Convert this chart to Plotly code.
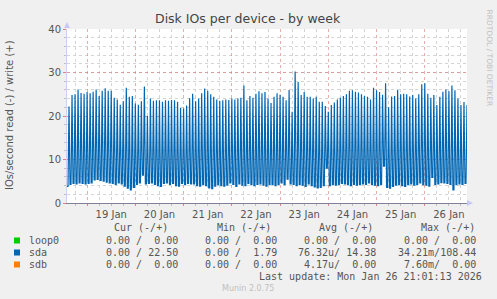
import pandas as pd
import plotly.graph_objects as go

# ---------------- data ----------------
start_time = "2026-01-18 14:00"
range_start = "2026-01-18 14:00"
range_end = "2026-01-26 21:00"

# sda write IOs/s : peaks (every 90 min) and troughs between them
sda_high = [22.2, 24.8, 25.0, 26.1, 25.3, 25.1, 25.5, 25.2, 25.6, 26.1,
            24.6, 25.8, 26.4, 25.8, 25.8, 24.2, 23.8, 22.6, 23.4, 26.5,
            24.4, 24.6, 22.9, 22.6, 23.4, 26.8, 20.0, 24.0, 23.5, 23.6,
            23.6, 23.3, 23.6, 23.5, 23.7, 23.6, 23.3, 21.9, 21.7, 22.4,
            24.1, 25.1, 23.4, 24.0, 25.2, 26.3, 25.8, 25.0, 24.4, 23.8,
            23.5, 23.6, 23.8, 23.7, 24.0, 23.8, 24.0, 24.2, 27.0, 23.6,
            24.6, 24.2, 25.1, 25.7, 25.2, 25.5, 24.0, 23.0, 24.4, 25.2,
            24.9, 24.4, 23.6, 26.0, 21.0, 30.2, 27.8, 24.8, 25.5, 24.4,
            24.4, 24.0, 24.4, 23.3, 23.3, 22.3, 21.0, 22.5, 23.1, 23.8,
            24.2, 24.6, 25.0, 25.8, 25.9, 25.6, 25.4, 25.0, 24.6, 24.4,
            23.8, 26.5, 25.9, 25.5, 24.9, 27.5, 22.0, 24.5, 24.6, 26.0,
            25.0, 25.1, 25.0, 24.5, 24.8, 24.0, 25.0, 27.3, 27.5, 25.1,
            24.2, 24.8, 22.5, 24.4, 25.6, 26.1, 25.7, 27.0, 25.9, 24.0,
            22.5, 23.2, 22.5]
sda_low = [3.8, 4.3, 4.5, 4.4, 4.6, 4.5, 4.4, 4.5, 4.6, 5.3,
           5.4, 5.2, 5.0, 4.8, 4.6, 4.5, 4.3, 4.6, 4.4, 3.9,
           3.4, 3.0, 3.6, 4.3, 4.6, 6.4, 4.4, 4.5, 4.6, 4.3,
           4.0, 3.8, 4.5, 4.6, 4.3, 4.5, 4.0, 3.9, 4.5, 4.2,
           4.5, 4.4, 4.4, 4.0, 3.9, 4.2, 4.0, 3.5, 3.3, 3.9,
           4.2, 4.0, 3.9, 4.1, 4.6, 4.3, 3.8, 4.4, 4.1, 4.0,
           4.5, 4.2, 4.0, 4.3, 4.4, 4.1, 3.9, 4.2, 4.3, 4.0,
           4.3, 4.6, 4.2, 5.5, 4.4, 4.3, 4.0, 4.2, 4.1, 3.8,
           4.4, 4.0, 3.7, 3.5, 3.6, 4.0, 8.0, 4.0, 4.3, 4.1,
           4.3, 4.5, 4.4, 4.2, 4.0, 4.3, 4.1, 4.2, 4.4, 4.3,
           4.6, 4.2, 4.1, 4.0, 4.3, 8.5, 3.6, 3.4, 3.8, 4.1,
           4.3, 4.0, 3.8, 4.2, 4.4, 4.1, 4.3, 4.6, 4.2, 4.1,
           3.9, 5.9, 4.3, 4.4, 4.7, 4.6, 4.5, 4.3, 3.0, 4.2,
           4.4, 4.3, 4.5]

y_ticks = [0, 10, 20, 30, 40]

legend_names = ["loop0", "sda", "sdb"]
legend_colors = ["#00CC00", "#0066B3", "#FF8000"]
col_headers = ["Cur (-/+)", "Min (-/+)", "Avg (-/+)", "Max (-/+)"]
col_values = [
    ["0.00 /  0.00", "0.00 /  0.00", "0.00 /  0.00", "0.00 /  0.00"],
    ["0.00 / 22.50", "0.00 /  1.79", "76.32u/ 14.38", "34.21m/108.44"],
    ["0.00 /  0.00", "0.00 /  0.00", "4.17u/  0.00", "7.60m/  0.00"],
]
last_update = "Last update: Mon Jan 26 21:01:13 2026"

# ---------------- build series ----------------
n = len(sda_high)
times = pd.date_range(start_time, periods=3 * n, freq="30min")
yvals = []
for lo, hi in zip(sda_low, sda_high):
    yvals += [lo, lo, hi]

W, H = 497, 299
L, R, T, B = 67, 467, 29, 203


def px(x):
    return (x - L) / (R - L)


def py(y):
    return (B - y) / (B - T)


fig = go.Figure()
fig.add_trace(go.Scatter(x=times, y=yvals, mode="lines",
                         line=dict(color="#0066B3", width=1.2),
                         hoverinfo="skip", showlegend=False))

mono = "DejaVu Sans Mono"
sans = "DejaVu Sans"
txt = "#555555"
ann = []
ann.append(dict(x=px(248), y=py(19), text="Disk IOs per device - by week",
                font=dict(family=sans, size=12.5, color="#444444")))
ann.append(dict(x=px(10), y=py(115), text="IOs/second read (-) / write (+)",
                textangle=-90, font=dict(family=sans, size=10, color=txt)))
ann.append(dict(x=px(488.5), y=py(58), text="RRDTOOL / TOBI OETIKER",
                textangle=90, font=dict(family=sans, size=7.5, color="#c0c0c0")))

hdr_right = [169.5, 272.5, 374.5, 476.5]
val_right = [179.5, 278.5, 377.5, 477.5]
for h, xr in zip(col_headers, hdr_right):
    ann.append(dict(x=px(xr), y=py(227.5), text=h.replace(" ", "\u00a0"),
                    xanchor="right", font=dict(family=mono, size=10, color=txt)))
row_y = [240.5, 252.5, 264.5]
shapes = []
for name, color, vals, ry in zip(legend_names, legend_colors, col_values, row_y):
    shapes.append(dict(type="rect", xref="paper", yref="paper",
                       x0=px(14), x1=px(20), y0=py(ry - 3), y1=py(ry + 3),
                       fillcolor=color, line=dict(width=0)))
    ann.append(dict(x=px(26.5), y=py(ry), text=name, xanchor="left",
                    font=dict(family=mono, size=10, color=txt)))
    for v, xr in zip(vals, val_right):
        ann.append(dict(x=px(xr), y=py(ry), text=v.replace(" ", "\u00a0"),
                        xanchor="right", font=dict(family=mono, size=10, color=txt)))
ann.append(dict(x=px(483.5), y=py(276), text=last_update.replace(" ", "\u00a0"),
                xanchor="right", font=dict(family=mono, size=10, color=txt)))
ann.append(dict(x=px(248), y=py(288.5), text="Munin 2.0.75",
                font=dict(family=sans, size=8, color="#c0c0c0")))
for a in ann:
    a.update(xref="paper", yref="paper", showarrow=False)
    a.setdefault("xanchor", "center")
    a.setdefault("yanchor", "middle")

# axis arrows
shapes.append(dict(type="path", xref="paper", yref="paper",
                   path=f"M {px(467)},{py(200)} L {px(473)},{py(203)} L {px(467)},{py(206)} Z",
                   fillcolor="#c8c8f8", line=dict(width=0)))
shapes.append(dict(type="path", xref="paper", yref="paper",
                   path=f"M {px(64)},{py(28)} L {px(67)},{py(22)} L {px(70)},{py(28)} Z",
                   fillcolor="#c8c8f8", line=dict(width=0)))

major_grid = "rgba(220,120,120,0.6)"
minor_grid = "#d4d4d4"
fig.update_layout(
    width=W, height=H, autosize=False,
    margin=dict(l=L, r=W - R, t=T, b=H - B, pad=0),
    paper_bgcolor="#F0F0F0", plot_bgcolor="#FFFFFF",
    annotations=ann, shapes=shapes, showlegend=False,
    xaxis=dict(type="date", range=[range_start, range_end],
               tick0="2026-01-19", dtick=86400000, ticklabelmode="period",
               tickformat="%d %b", tickfont=dict(family=sans, size=10, color=txt),
               showgrid=True, gridcolor=major_grid, griddash="dot", gridwidth=1,
               ticks="outside", ticklen=2, tickcolor="#e08080",
               showline=True, linecolor="#808098", linewidth=1,
               zeroline=False, fixedrange=True,
               minor=dict(dtick=6 * 3600 * 1000, showgrid=True,
                          gridcolor=minor_grid, griddash="dot",
                          ticks="outside", ticklen=2, tickcolor="#c0c0c0")),
    yaxis=dict(range=[0, 40], tickvals=y_ticks,
               tickfont=dict(family=sans, size=10, color=txt),
               showgrid=True, gridcolor=major_grid, griddash="dot",
               ticks="outside", ticklen=3, tickcolor="#e08080",
               showline=True, linecolor="#d0d0f0", zeroline=False,
               fixedrange=True,
               minor=dict(dtick=2, showgrid=True, gridcolor=minor_grid,
                          griddash="dot", ticks="outside", ticklen=2,
                          tickcolor="#c0c0c0")),
)

fig.write_html("out.html")
